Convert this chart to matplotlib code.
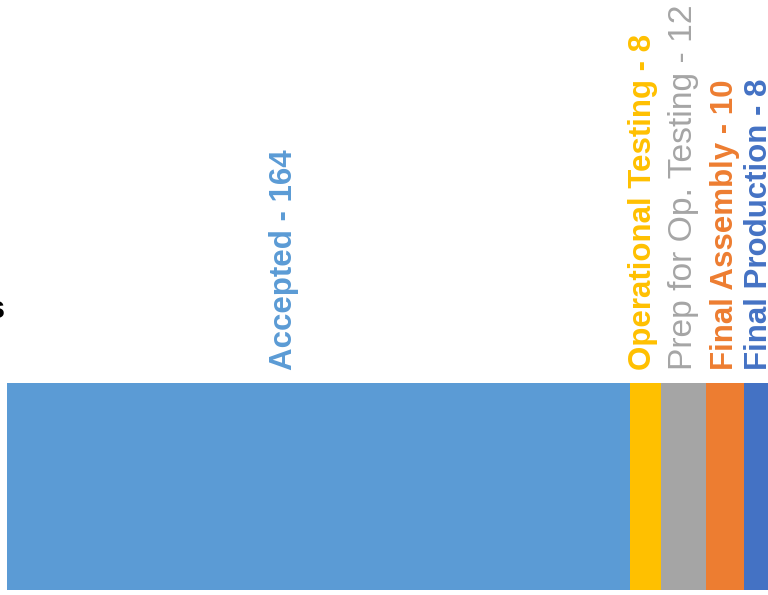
import matplotlib.pyplot as plt
from matplotlib import transforms

plt.rcParams['font.family'] = ['Liberation Sans', 'DejaVu Sans']

# stages of the pipeline, left to right
stages = ["Accepted", "Operational Testing", "Prep for Op. Testing",
          "Final Assembly", "Final Production"]
counts = [164, 8, 12, 10, 8]
colors = ["#5B9BD5", "#FFC000", "#A5A5A5", "#ED7D31", "#4472C4"]
bold = [True, True, False, True, True]

W, H = 768, 595
fig = plt.figure(figsize=(W / 100, H / 100), dpi=100)

# the single stacked bar runs off the right edge of the figure
px_per_unit = 3.8
x0, y0, bar_h = 7, 5, 207
ax = fig.add_axes([x0 / W, y0 / H, (W - x0) / W, bar_h / H])
ax.set_xlim(0, (W - x0) / px_per_unit)
ax.set_ylim(-0.5, 0.5)
ax.axis("off")

label_shift = {"Accepted": -9, "Operational Testing": -0.7}
trans = transforms.blended_transform_factory(ax.transData, fig.transFigure)

left = 0
for name, n, c, b in zip(stages, counts, colors, bold):
    ax.barh(0, n, left=left, height=1, color=c, edgecolor="none")
    xc = left + n / 2 + label_shift.get(name, 0)
    ax.text(xc, (H - 370) / H, f"{name} - {n}", transform=trans,
            rotation=90, ha="center", va="bottom", color=c,
            fontsize=22.5 if b else 24.2,
            fontweight="bold" if b else "normal",
            clip_on=False)
    left += n

# tail of the axis title, clipped at the left edge
fig.text(5 / W, (H - 310) / H, "s", ha="right", va="center",
         fontsize=22, fontweight="bold", color="black")

fig.savefig("out.png", dpi=100)
